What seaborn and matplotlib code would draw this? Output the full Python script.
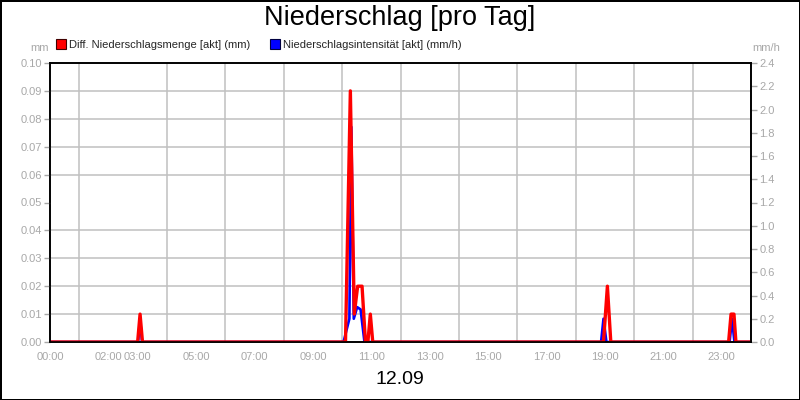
import numpy as np
import pandas as pd
import matplotlib
matplotlib.use("Agg")
import matplotlib.pyplot as plt
import seaborn as sns
from matplotlib.lines import Line2D

# ---- data ----
red_times = ["00:00", "03:00", "03:05", "03:10", "10:07", "10:17", "10:25", "10:32",
             "10:41", "10:48", "10:53", "10:58", "11:03", "18:57", "19:05", "19:12",
             "23:14", "23:19", "23:25", "23:29", "24:00"]
red_vals = [0, 0, 0.01, 0, 0, 0.09, 0.01, 0.02, 0.02, 0, 0, 0.01, 0,
            0, 0.02, 0, 0, 0.01, 0.01, 0, 0]

blue_times = ["00:00", "03:01", "03:05", "03:09", "10:03", "10:15", "10:19", "10:24",
              "10:31", "10:38", "10:46", "18:52", "18:57", "19:03", "23:16", "23:21",
              "23:26", "24:00"]
blue_vals = [0, 0, 0.2, 0, 0, 0.2, 1.85, 0.2, 0.3, 0.28, 0, 0, 0.2, 0, 0, 0.2, 0, 0]

x_tick_hours = [0, 2, 3, 5, 7, 9, 11, 13, 15, 17, 19, 21, 23]
x_tick_labels = ["00:00", "02:00", "03:00", "05:00", "07:00", "09:00", "11:00",
                 "13:00", "15:00", "17:00", "19:00", "21:00", "23:00"]
left_ticks = [0.00, 0.01, 0.02, 0.03, 0.04, 0.05, 0.06, 0.07, 0.08, 0.09, 0.10]
right_ticks = [0.0, 0.2, 0.4, 0.6, 0.8, 1.0, 1.2, 1.4, 1.6, 1.8, 2.0, 2.2, 2.4]

title = "Niederschlag [pro Tag]"
date_label = "12.09"
red_name = "Diff. Niederschlagsmenge [akt] (mm)"
blue_name = "Niederschlagsintensität [akt] (mm/h)"


def to_hours(t):
    hh, mm = t.split(":")
    return int(hh) + int(mm) / 60.0


red_df = pd.DataFrame({"t": [to_hours(t) for t in red_times], "v": red_vals})
blue_df = pd.DataFrame({"t": [to_hours(t) for t in blue_times], "v": blue_vals})

sns.set_style("white")
plt.rcParams["font.family"] = ["Liberation Sans", "DejaVu Sans"]

GRAY = "#a8a8a8"
GRID = "#c0c0c0"

fig = plt.figure(figsize=(8, 4), dpi=100)
fig.patch.set_facecolor("white")
fig.patch.set_edgecolor("black")
fig.patch.set_linewidth(2)

W, H = 800, 400
ax = fig.add_axes([50 / W, 1 - 342 / H, 701 / W, 279 / H])
ax2 = ax.twinx()
ax2.xaxis.set_visible(True)
# red (left axis) drawn on top of blue
ax.set_zorder(ax2.get_zorder() + 1)
ax.patch.set_visible(False)

sns.lineplot(data=blue_df, x="t", y="v", ax=ax2, color="#0000ff", linewidth=1.9,
             estimator=None, legend=False)
sns.lineplot(data=red_df, x="t", y="v", ax=ax, color="#ff0000", linewidth=2.4,
             estimator=None, legend=False)

ax.set_xlim(0, 24)
ax.set_ylim(0, 0.10)
ax2.set_ylim(0, 2.4)

ax.set_xticks(x_tick_hours)
ax.set_xticklabels(x_tick_labels)
ax.set_xticks(np.arange(0, 25, 1), minor=True)
ax.set_yticks(left_ticks)
ax.set_yticklabels([f"{v:.2f}" for v in left_ticks])
ax2.set_yticks(right_ticks)
ax2.set_yticklabels([f"{v:.1f}" for v in right_ticks])

# gridlines on the lower axes (so lines are drawn over them)
ax2.set_xticks(np.arange(0, 25, 1), minor=True)
ax2.set_yticks(np.linspace(0, 2.4, 11), minor=True)
ax2.grid(False)
ax2.grid(which="minor", axis="both", color=GRID, linewidth=1.1)
ax.grid(False)

ax.set_xlabel("")
ax.set_ylabel("")
ax2.set_xlabel("")
ax2.set_ylabel("")

for a in (ax, ax2):
    for s in a.spines.values():
        s.set_color("black")
        s.set_linewidth(1.2)
        s.set_visible(True)

ax.tick_params(axis="x", which="major", colors=GRAY, labelcolor=GRAY, labelsize=8,
               length=4, width=1, direction="out", pad=3)
ax.tick_params(axis="x", which="minor", colors=GRAY, length=4, width=1, direction="out")
ax.tick_params(axis="y", colors=GRAY, labelcolor=GRAY, labelsize=8, length=4,
               width=1, direction="out", pad=2, left=True)
ax2.tick_params(axis="y", which="major", colors=GRAY, labelcolor=GRAY, labelsize=8,
                length=4, width=1, direction="out", pad=2, right=True)
ax2.tick_params(axis="y", which="minor", length=0)
ax2.tick_params(axis="x", which="both", length=0, labelbottom=False, bottom=False,
                top=False, labeltop=False)

fig.text(400 / W, 1 - 18 / H, title, ha="center", va="center", fontsize=19.5,
         color="black")
fig.text(400 / W, 1 - 380 / H, date_label, ha="center", va="center", fontsize=14,
         color="black")
fig.text(40 / W, 1 - 48 / H, "mm", ha="center", va="center", fontsize=8, color=GRAY)
fig.text(766 / W, 1 - 48 / H, "mm/h", ha="center", va="center", fontsize=8, color=GRAY)

handles = [
    Line2D([], [], linestyle="none", marker="s", markersize=7.5,
           markerfacecolor="#ff0000", markeredgecolor="#400000", markeredgewidth=0.8),
    Line2D([], [], linestyle="none", marker="s", markersize=7.5,
           markerfacecolor="#0000ff", markeredgecolor="#000040", markeredgewidth=0.8),
]
fig.legend(handles, [red_name, blue_name], loc="center left",
           bbox_to_anchor=(57 / W, 1 - 45 / H), ncol=2, frameon=False,
           fontsize=8, handlelength=0.8, handletextpad=0.3, columnspacing=1.8,
           borderpad=0, borderaxespad=0)

fig.savefig("out.png", dpi=100, facecolor=fig.get_facecolor(),
            edgecolor=fig.get_edgecolor())
